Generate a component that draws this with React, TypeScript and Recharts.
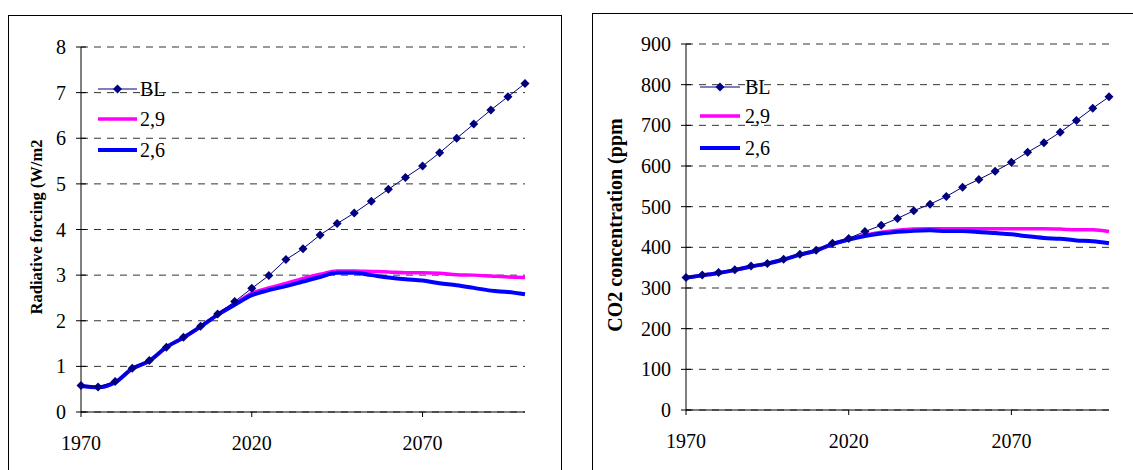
import { LineChart, Line, XAxis, YAxis, CartesianGrid } from 'recharts'

const FONT = '"Liberation Serif", "Times New Roman", serif'

const years = [
  1970, 1975, 1980, 1985, 1990, 1995, 2000, 2005, 2010, 2015, 2020, 2025, 2030, 2035,
  2040, 2045, 2050, 2055, 2060, 2065, 2070, 2075, 2080, 2085, 2090, 2095, 2100,
]
const xTicks = [1970, 2020, 2070]

// radiative forcing, W/m2
const rfBL = [0.58, 0.55, 0.67, 0.96, 1.13, 1.42, 1.64, 1.88, 2.15, 2.42, 2.71, 2.99, 3.34, 3.58, 3.88, 4.13, 4.36, 4.62, 4.88, 5.14, 5.39, 5.68, 6.0, 6.31, 6.62, 6.91, 7.2]
const rf29 = [0.57, 0.54, 0.65, 0.95, 1.12, 1.42, 1.63, 1.87, 2.14, 2.37, 2.6, 2.72, 2.82, 2.93, 3.02, 3.09, 3.09, 3.08, 3.07, 3.05, 3.05, 3.04, 3.01, 3.0, 2.98, 2.96, 2.95]
const rf26 = [0.57, 0.54, 0.65, 0.95, 1.12, 1.42, 1.63, 1.87, 2.13, 2.35, 2.56, 2.67, 2.76, 2.86, 2.96, 3.05, 3.05, 3.0, 2.95, 2.91, 2.88, 2.82, 2.78, 2.72, 2.66, 2.63, 2.58]
const rfTicks = [0, 1, 2, 3, 4, 5, 6, 7, 8]

// CO2 concentration, ppm
const co2BL = [326, 332, 338, 345, 354, 360, 371, 383, 393, 410, 422, 439, 454, 471, 490, 506, 525, 548, 567, 587, 609, 634, 657, 683, 712, 742, 770]
const co229 = [325, 331, 337, 344, 353, 360, 370, 382, 392, 408, 420, 430, 437, 442, 445, 446, 446, 446, 446, 446, 446, 446, 446, 445, 443, 443, 439]
const co226 = [325, 331, 337, 344, 353, 360, 370, 382, 392, 408, 419, 428, 434, 438, 441, 442, 440, 440, 438, 435, 432, 427, 423, 421, 417, 415, 410]
const co2Ticks = [0, 100, 200, 300, 400, 500, 600, 700, 800, 900]

const rfData = years.map((year, i) => ({ year, bl: rfBL[i], s29: rf29[i], s26: rf26[i] }))
const co2Data = years.map((year, i) => ({ year, bl: co2BL[i], s29: co229[i], s26: co226[i] }))

const NAVY = '#000080'
const PINK = '#ff00ff'
const BLUE = '#0000ff'

function Diamond({ cx, cy, r = 4.5 }: { cx: number; cy: number; r?: number }) {
  return <path d={`M${cx},${cy - r}L${cx + r},${cy}L${cx},${cy + r}L${cx - r},${cy}Z`} fill={NAVY} />
}

function YTick(props: any) {
  const { x, y, payload } = props
  return (
    <g>
      <line x1={x + 10} x2={x + 20} y1={y} y2={y} stroke="#000" />
      <text x={x} y={y} dy="0.35em" textAnchor="end" fontSize={20} fontFamily={FONT} fill="#000">
        {payload.value}
      </text>
    </g>
  )
}

interface PanelProps {
  left: number
  top: number
  width: number
  height: number
  data: any[]
  yMax: number
  yTicks: number[]
  margin: { top: number; right: number; left: number; bottom: number }
  label: string
  labelSize: number
  labelPos: [number, number]
  legendX: [number, number, number]
  legendY: number[]
}

function Panel(p: PanelProps) {
  const [lx1, lx2, tx] = p.legendX
  const legend = [
    { name: 'BL', color: NAVY, w: 1, dot: true },
    { name: '2,9', color: PINK, w: 3.5, dot: false },
    { name: '2,6', color: BLUE, w: 4, dot: false },
  ]
  return (
    <div style={{ position: 'absolute', left: p.left, top: p.top, width: p.width, height: p.height }}>
      <LineChart width={p.width} height={p.height} data={p.data} margin={p.margin}>
        <CartesianGrid vertical={false} stroke="#333" strokeDasharray="7 6" />
        <XAxis
          dataKey="year"
          type="number"
          domain={[1970, 2100]}
          ticks={xTicks}
          height={45}
          tickSize={5}
          tickMargin={19}
          axisLine={{ stroke: '#000' }}
          tickLine={{ stroke: '#000' }}
          tick={{ fontSize: 20, fontFamily: FONT, fill: '#000' }}
        />
        <YAxis
          domain={[0, p.yMax]}
          ticks={p.yTicks}
          width={50}
          tickSize={5}
          tickMargin={10}
          interval={0}
          axisLine={{ stroke: '#000' }}
          tickLine={false}
          tick={<YTick />}
        />
        <Line type="monotone" dataKey="s29" stroke={PINK} strokeWidth={3.5} dot={false} isAnimationActive={false} />
        <Line type="monotone" dataKey="s26" stroke={BLUE} strokeWidth={4} dot={false} isAnimationActive={false} />
        <Line
          type="linear"
          dataKey="bl"
          stroke={NAVY}
          strokeWidth={1}
          dot={(d: any) => <Diamond key={`d${d.index}`} cx={d.cx} cy={d.cy} />}
          isAnimationActive={false}
        />
      </LineChart>
      <svg width={p.width} height={p.height} style={{ position: 'absolute', left: 0, top: 0, pointerEvents: 'none' }}>
        <text
          transform={`translate(${p.labelPos[0]},${p.labelPos[1]}) rotate(-90)`}
          textAnchor="middle"
          dy="0.35em"
          fontSize={p.labelSize}
          fontWeight="bold"
          fontFamily={FONT}
          fill="#000"
        >
          {p.label}
        </text>
        {legend.map((l, i) => (
          <g key={l.name}>
            <line x1={lx1} x2={lx2} y1={p.legendY[i]} y2={p.legendY[i]} stroke={l.color} strokeWidth={l.w} />
            {l.dot && <Diamond cx={(lx1 + lx2) / 2} cy={p.legendY[i]} />}
            <text x={tx} y={p.legendY[i]} dy="0.35em" fontSize={20} fontFamily={FONT} fill="#000">
              {l.name}
            </text>
          </g>
        ))}
      </svg>
      <div
        style={{
          position: 'absolute',
          left: 0,
          top: 0,
          width: p.width,
          height: p.height + 20,
          border: '1.5px solid #000',
          boxSizing: 'border-box',
          pointerEvents: 'none',
        }}
      />
    </div>
  )
}

export default function App() {
  return (
    <div style={{ position: 'absolute', left: 0, top: 0, width: 1133, height: 470, overflow: 'hidden', background: '#fff' }}>
      <Panel
        left={8}
        top={15}
        width={554}
        height={455}
        data={rfData}
        yMax={8}
        yTicks={rfTicks}
        margin={{ top: 32, right: 37, left: 23, bottom: 13 }}
        label="Radiative forcing (W/m2"
        labelSize={16.5}
        labelPos={[28, 212]}
        legendX={[90, 129, 132]}
        legendY={[74, 104, 135]}
      />
      <Panel
        left={592}
        top={13}
        width={560}
        height={457}
        data={co2Data}
        yMax={900}
        yTicks={co2Ticks}
        margin={{ top: 31, right: 43, left: 44, bottom: 15 }}
        label="CO2 concentration (ppm"
        labelSize={20}
        labelPos={[23, 212]}
        legendX={[108, 148, 153]}
        legendY={[74, 103, 135]}
      />
    </div>
  )
}
